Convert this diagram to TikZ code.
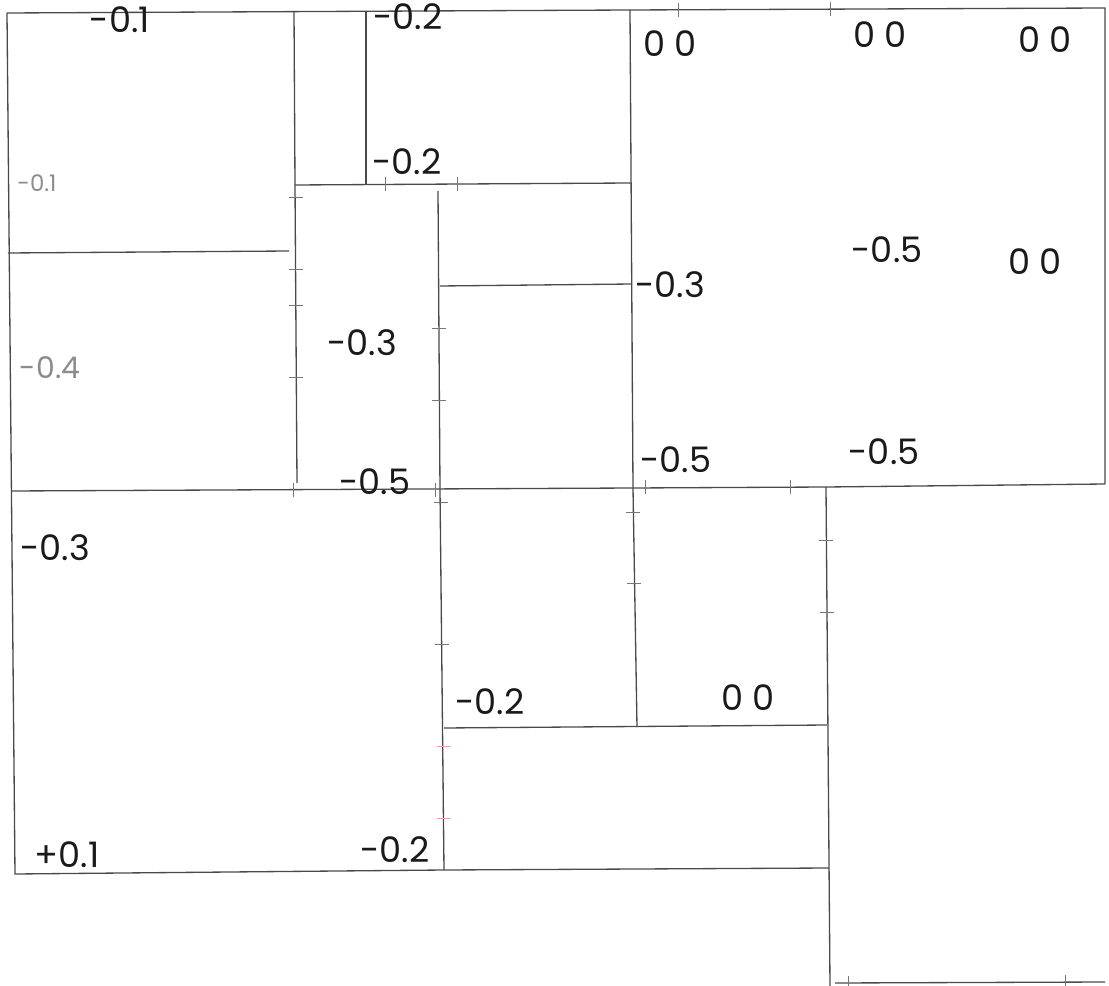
\documentclass[tikz,border=0pt]{standalone}
\usepackage{fontspec}
\setmainfont{Poppins}
\usepackage{xcolor}
\definecolor{ink}{HTML}{1A1A1A}
\definecolor{wallgray}{HTML}{4A4A4A}
\definecolor{inkgray}{HTML}{8C8C8C}
\definecolor{tickred}{HTML}{E8A8A8}
\tikzset{
  wall/.style={draw=wallgray,line width=0.75pt},
  tickmark/.style={draw=wallgray!75,line width=0.4pt},
  redtick/.style={draw=tickred,line width=0.4pt},
  val/.style={font=\fontsize{20}{22}\selectfont,text=ink,inner sep=0pt},
  faintval/.style={val,text=inkgray}
}

\begin{document}
\begin{tikzpicture}[x=0.02cm,y=-0.02cm]
      \useasboundingbox (0,0) rectangle (1109,986);
      % walls
      \draw[wall] (7,13) -- (630,10) -- (1105,8) -- (1105,484);
      \draw[wall] (7,13) -- (15,874) -- (444,870) -- (829,868);
      \draw[wall] (8,253) -- (289,251);
      \draw[wall] (294,11) -- (295,185) -- (297,483);
      \draw[wall] (366,11) -- (366,184);
      \draw[wall] (295,185) -- (631,183);
      \draw[wall] (438,191) -- (440,490) -- (444,870);
      \draw[wall] (440,286) -- (632,284);
      \draw[wall] (630,10) -- (633,488) -- (637,727);
      \draw[wall] (11,491) -- (633,488) -- (826,487) -- (1105,484);
      \draw[wall] (826,487) -- (830,986);
      \draw[wall] (444,728) -- (827,725);
      \draw[wall] (835,983) -- (1105,982);
      % ticks
      \foreach \x/\y in {296/197,296/269,296/305,296/377,439/328,439/400,
                         441/502,442/644,633/512,634/583,826/540,827/612}
        \draw[tickmark] ({\x-7},\y) -- ({\x+7},\y);
      \foreach \x/\y in {385/184,457/184,293/490,435/490,645/487,790/487,
                         678/10,830/9,848/983,1065/982}
        \draw[tickmark] (\x,{\y-7}) -- (\x,{\y+7});
      \foreach \y in {746,818}
        \draw[redtick] (437,\y) -- (451,\y);
      % values
      \node[val] (nwtop) at (120,20) {-0.1};
      \node[val] (stairtop) at (408,17) {-0.2};
      \node[faintval,font=\fontsize{13}{15}\selectfont] (nwlow) at (37,183) {-0.1};
      \node[val] (stairlow) at (407,162) {-0.2};
      \node[faintval,font=\fontsize{17}{19}\selectfont] (westmid) at (50,368) {-0.4};
      \node[val] (hall) at (362,343) {-0.3};
      \node[val] (hallfoot) at (375,482) {-0.5};
      \node[val] (eastnw) at (670,44) {0 0};
      \node[val] (eastn) at (880,35) {0 0};
      \node[val] (eastne) at (1045,40) {0 0};
      \node[val] (eastw) at (670,285) {-0.3};
      \node[val] (eastc) at (887,250) {-0.5};
      \node[val] (easte) at (1035,262) {0 0};
      \node[val] (eastsw) at (676,460) {-0.5};
      \node[val] (easts) at (884,452) {-0.5};
      \node[val] (swtop) at (55,548) {-0.3};
      \node[val] (swfoot) at (67,855) {+0.1};
      \node[val] (swcorner) at (395,850) {-0.2};
      \node[val] (midroom) at (490,702) {-0.2};
      \node[val] (sideroom) at (748,698) {0 0};
    \end{tikzpicture}
\end{document}
